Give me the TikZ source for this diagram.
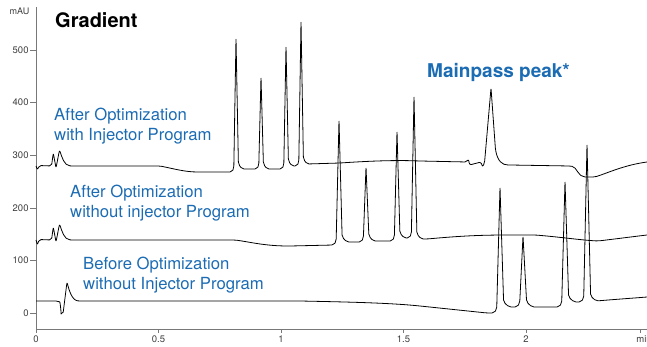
\documentclass[tikz,border=0pt]{standalone}
\usepackage{fontspec}
\setmainfont{TeX Gyre Heros}
\definecolor{labelblue}{RGB}{28,108,180}
\definecolor{axisgray}{RGB}{120,120,120}
\definecolor{ticktext}{RGB}{60,60,60}
\newcommand{\peak}[5]{-- ({#2-4*#1},#3) -- ({#2-2.2*#1},{#3-4}) -- (#2,#4) -- ({#2+2.4*#1},{#5-5}) -- ({#2+6*#1},#5)}
\tikzset{
  trace/.style={black, line width=0.8pt, rounded corners=2pt, line join=round},
  axis/.style={axisgray, line width=0.9pt},
  tracelabel/.style={labelblue, font=\fontsize{16.7}{20}\selectfont, align=left, inner sep=0pt, anchor=north west},
  headline/.style={font=\bfseries\fontsize{19}{22}\selectfont, inner sep=0pt, anchor=base west},
  ticklabel/.style={ticktext, font=\fontsize{9.5}{11}\selectfont, inner sep=0pt}
}
\begin{document}
\begin{tikzpicture}[x=1pt, y=-1pt]
\useasboundingbox (0,0) rectangle (647,347);
\draw[axis] (36,7) -- (36,329) -- (647,329);
\foreach \v in {0,100,...,500}
  \draw[axis] (36,{313.3-0.5266*\v}) -- ++(-6,0) node[ticklabel, anchor=east, xshift=-1pt] {\v};
\foreach \t/\lab in {0/0, 0.5/0.5, 1/1, 1.5/1.5, 2/2}
  \draw[axis] ({36+245*\t},329) -- ++(0,4) node[ticklabel, anchor=north, yshift=-2pt] {\lab};
\draw[axis] (640,329) -- ++(0,4) node[ticklabel, anchor=north west, xshift=-4pt, yshift=-2pt] (unit) {min};
\node[ticklabel, font=\fontsize{9}{10}\selectfont, anchor=base east] (mau) at (29.5,14.7) {mAU};

\draw[trace] (36,166) -- (37.5,170) -- (39,165.5) -- (51.5,166) -- (53.3,153) -- (56,168) -- (59.5,150)
  .. controls (62,157) and (64,165.5) .. (72,166) -- (160,166)
  .. controls (175,169) and (185,172) .. (200,172)
  \peak{1}{236}{172}{38}{169}
  \peak{1}{261}{169}{77}{169}
  \peak{1}{286}{169}{46}{166}
  \peak{1}{301}{166}{21}{164}
  -- (340,163) .. controls (370,161) and (395,160) .. (420,161) -- (467,162)
  -- (468.5,159) -- (469.5,165) -- (481,162) -- (482.5,167) -- (484.5,163)
  -- (491,88) -- (495.5,150) .. controls (498,161) and (502,165) .. (510,165) -- (570,166)
  .. controls (577,167) and (578,177) .. (587,177) -- (595,177)
  .. controls (610,172) and (625,165) .. (647,162);

\draw[trace] (36,240) -- (37.5,245) -- (39,239.5) -- (51.5,240) -- (53.3,227) -- (56,242) -- (59.5,224)
  .. controls (62,231) and (64,239.5) .. (72,240) -- (235,240)
  .. controls (250,242) and (265,246) .. (290,246)
  \peak{1.3}{339}{245}{120}{242}
  \peak{1.2}{366}{242}{167}{241}
  \peak{1.2}{397}{241}{131}{238}
  \peak{1.2}{414}{238}{96}{239}
  -- (427,239) .. controls (460,236) and (480,235) .. (510,235) -- (535,235)
  .. controls (560,237) and (580,240) .. (598,241)
  .. controls (615,239) and (630,237) .. (647,235);

\draw[trace] (36,301) -- (58,301) .. controls (60,302) and (61.5,314) .. (63,314) -- (67,282)
  .. controls (69,290) and (72,300.5) .. (80,301) -- (300,301)
  .. controls (350,302) and (390,303) .. (420,306) -- (487,313)
  \peak{1.5}{500}{313}{187}{307}
  \peak{1.5}{523}{307}{236}{307}
  \peak{1.5}{565}{307}{181}{302}
  \peak{1.5}{587}{302}{144}{301}
  .. controls (620,299) and (635,298) .. (647,297);

\node[headline, font=\bfseries\fontsize{20}{22}\selectfont] (gradient) at (55,27.3) {Gradient};
\node[headline, labelblue] (mainpass) at (427,77.3) {Mainpass peak*};
\node[tracelabel] (lbl-with) at (54,107.5) {After Optimization\\with Injector Program};
\node[tracelabel] (lbl-without) at (70,185) {After Optimization\\without injector Program};
\node[tracelabel] (lbl-before) at (83,257) {Before Optimization\\without Injector Program};
\end{tikzpicture}
\end{document}
